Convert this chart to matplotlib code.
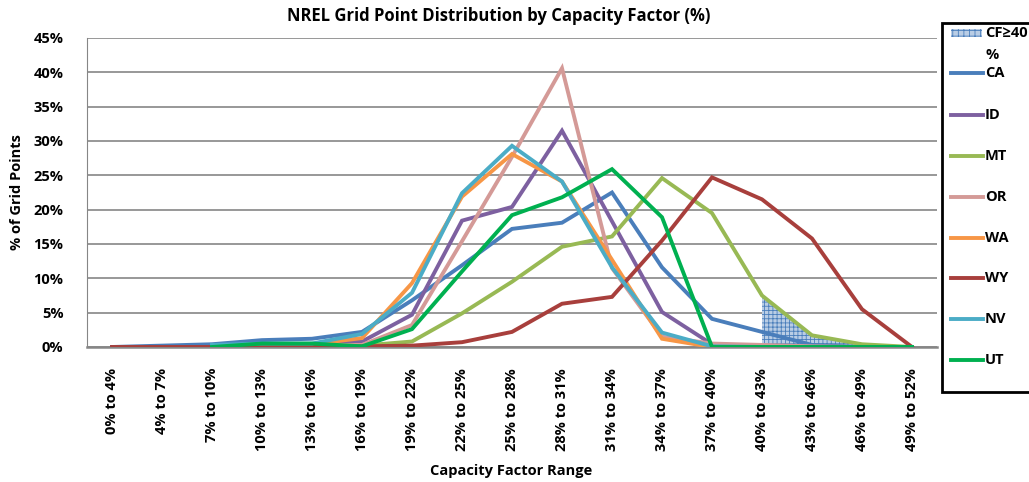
import numpy as np
import matplotlib
matplotlib.use("Agg")
import matplotlib.pyplot as plt
from matplotlib.lines import Line2D
from matplotlib.patches import Rectangle

plt.rcParams['font.family'] = ['Open Sans', 'DejaVu Sans']
plt.rcParams['font.weight'] = 'bold'
plt.rcParams['hatch.linewidth'] = 0.6

categories = ["0% to 4%", "4% to 7%", "7% to 10%", "10% to 13%", "13% to 16%",
              "16% to 19%", "19% to 22%", "22% to 25%", "25% to 28%", "28% to 31%",
              "31% to 34%", "34% to 37%", "37% to 40%", "40% to 43%", "43% to 46%",
              "46% to 49%", "49% to 52%"]

n = np.nan
CA = [0.0, 0.2, 0.4, 1.0, 1.2, 2.2, 6.8, 11.9, 17.2, 18.1, 22.5, 11.6, 4.1, 2.2, 0.3, 0.0, 0.0]
ID = [n, n, 0.0, 0.2, 0.3, 0.8, 4.7, 18.4, 20.4, 31.5, 18.3, 5.1, 0.4, 0.1, 0.0, 0.0, 0.0]
MT = [n, n, 0.0, 0.0, 0.1, 0.2, 0.8, 4.9, 9.5, 14.6, 16.1, 24.6, 19.5, 7.5, 1.7, 0.4, 0.0]
OR = [n, n, 0.0, 0.1, 0.3, 0.3, 3.2, 15.4, 27.7, 40.6, 11.5, 1.5, 0.5, 0.3, 0.1, 0.0, 0.0]
WA = [n, n, 0.0, 0.3, 0.4, 1.3, 9.3, 21.9, 28.1, 24.1, 12.7, 1.2, 0.0, 0.0, 0.0, 0.0, 0.0]
WY = [0.0, 0.0, 0.0, 0.0, 0.0, 0.1, 0.2, 0.7, 2.2, 6.3, 7.3, 15.5, 24.7, 21.5, 15.8, 5.5, 0.0]
NV = [n, n, 0.3, 0.5, 0.5, 1.9, 7.9, 22.4, 29.3, 24.1, 11.6, 2.1, 0.1, 0.0, 0.0, 0.0, 0.0]
UT = [n, n, 0.0, 0.5, 0.5, 0.1, 2.6, 11.0, 19.2, 21.8, 25.9, 18.9, 0.0, 0.0, 0.0, 0.0, 0.0]
CF40 = [n, n, n, n, n, n, n, n, n, n, n, n, n, 7.5, 1.7, 0.4, 0.0]

series = [("CA", CA, "#4A7EBB"), ("ID", ID, "#7D60A0"), ("MT", MT, "#98B954"),
          ("OR", OR, "#D49A97"), ("WA", WA, "#F79646"), ("WY", WY, "#A83F3C"),
          ("NV", NV, "#4BACC6"), ("UT", UT, "#00B050")]

fs = 10.5

fig = plt.figure(figsize=(10.29, 4.82), dpi=100)
ax = fig.add_axes([87/1029, 1-347/482, 850/1029, 309/482])

x = np.arange(len(categories))
cf = np.array(CF40, dtype=float)
m = ~np.isnan(cf)
ax.fill_between(x[m], 0, cf[m] / 100, facecolor="#B9CDE5", edgecolor="#4A7EBB",
                hatch="++++", linewidth=0, zorder=1)

for name, vals, col in series:
    ax.plot(x, np.array(vals) / 100, color=col, lw=2.8, solid_joinstyle="miter", zorder=3)

ax.set_xlim(-0.5, len(categories) - 0.5)
ax.set_ylim(0, 0.45)
ax.set_yticks(np.arange(0, 0.451, 0.05))
ax.set_yticklabels([f"{int(round(v*100))}%" for v in np.arange(0, 0.451, 0.05)],
                   fontsize=fs, fontweight='bold')
ax.set_xticks(x)
ax.set_xticklabels(categories, rotation=90, fontsize=fs, fontweight='bold')
ax.tick_params(axis='both', length=0)
ax.tick_params(axis='x', pad=15)
ax.tick_params(axis='y', pad=17)
ax.grid(axis='y', color="#868686", lw=1.2)
ax.set_axisbelow(True)
for s in ["top", "right"]:
    ax.spines[s].set_visible(False)
ax.spines["left"].set_color("#868686")
ax.spines["bottom"].set_color("#868686")
ax.spines["bottom"].set_linewidth(1.8)

fig.text(499/1029, 1-16/482, "NREL Grid Point Distribution by Capacity Factor (%)",
         ha='center', va='center', fontsize=12, fontweight='bold')
ax.set_ylabel("% of Grid Points", fontsize=fs, fontweight='bold', labelpad=7)
fig.text(511/1029, 1-471/482, "Capacity Factor Range", ha='center', va='center',
         fontsize=fs, fontweight='bold')

# legend box, hand placed like the original
fig.patches.append(Rectangle((942/1029, 1-392/482), 0.2, 369/482, transform=fig.transFigure,
                             facecolor='white', edgecolor='black', lw=2, zorder=5))
fig.patches.append(Rectangle((951/1029, 1-37/482), 31/1029, 8/482, transform=fig.transFigure,
                             facecolor="#B9CDE5", edgecolor="#4A7EBB", hatch="+++", lw=0, zorder=6))
fig.text(985/1029, 1-33/482, "CF≥40", va='center', fontsize=fs, fontweight='bold', zorder=7)
fig.text(985/1029, 1-55/482, "%", va='center', fontsize=fs, fontweight='bold', zorder=7)
ys = [73, 115, 156, 197, 238, 278, 319, 360]
for (name, vals, col), yy in zip(series, ys):
    fig.lines.append(Line2D([951/1029, 983/1029], [1-yy/482]*2, transform=fig.transFigure,
                            color=col, lw=2.8, zorder=6))
    fig.text(985/1029, 1-yy/482, name, va='center', fontsize=fs, fontweight='bold', zorder=7)

fig.savefig("out.png", dpi=100)
